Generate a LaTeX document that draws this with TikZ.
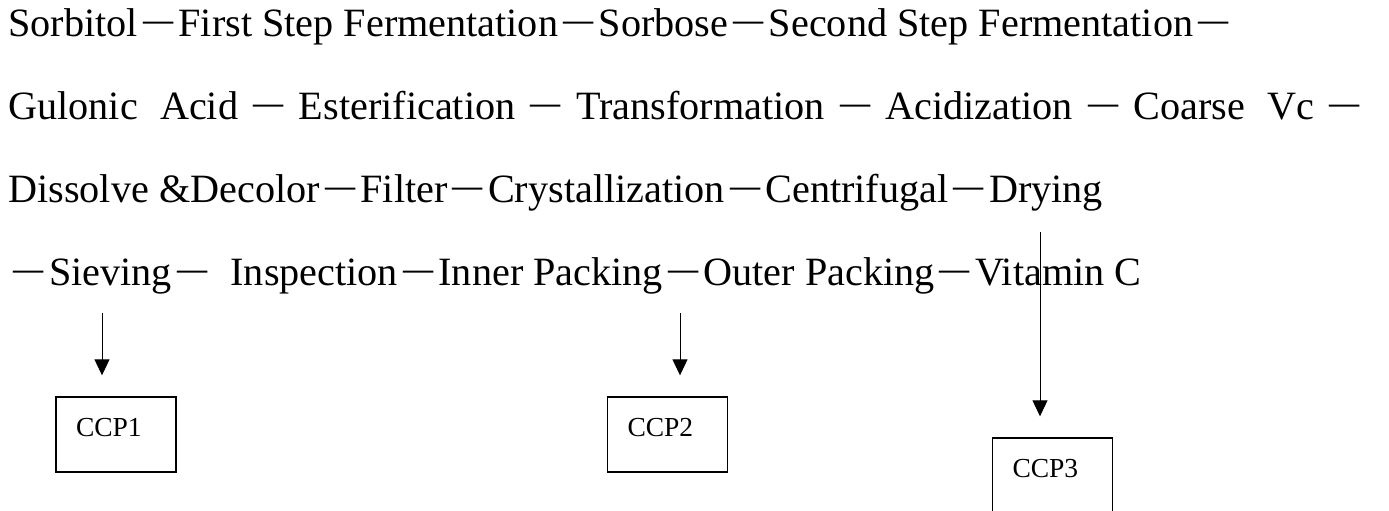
\documentclass[tikz,border=0pt]{standalone}
\usepackage{fontspec}
\setmainfont{Liberation Serif}
\usetikzlibrary{arrows.meta,positioning}

% full-width bar between the steps
\newcommand{\dsh}{\kern0.13em\raisebox{0.08em}{\scalebox{0.75}[1]{—}}\kern0.13em}

\begin{document}
\begin{tikzpicture}[x=0.5pt,y=-0.5pt,
    textline/.style={anchor=base west,inner sep=0pt,font=\fontsize{20.1}{24}\selectfont},
    ccpbox/.style={draw,line width=0.7pt,minimum width=60pt,minimum height=37.5pt,
      inner sep=0pt,text width=40pt,align=left,text depth=7pt,
      font=\fontsize{13.75}{16}\selectfont},
    flow/.style={-{Triangle[length=8pt,width=7.5pt]},line width=0.5pt}]
  \useasboundingbox (0,0) rectangle (1389,510);
  % process lines
  \node[textline] (line1) at (8,36)
    {Sorbitol\dsh First Step Fermentation\dsh Sorbose\dsh Second Step Fermentation\dsh};
  \node[textline] (line2) at (8,119)
    {Gulonic\hspace{0.55em}Acid \dsh{} Esterification \dsh{} Transformation \dsh{} Acidization \dsh{} Coarse\hspace{0.55em}Vc \dsh};
  \node[textline] (line3) at (8,202)
    {Dissolve \&Decolor\dsh Filter\dsh Crystallization\dsh Centrifugal\dsh Drying};
  \node[textline] (line4) at (8,285)
    {\dsh Sieving\dsh\hspace{0.45em}Inspection\dsh Inner Packing\dsh Outer Packing\dsh Vitamin C};
  % critical control points
  \node[ccpbox] (ccp1) at (116,434.5) {CCP1};
  \node[ccpbox] (ccp2) at (667.5,434.5) {CCP2};
  \node[ccpbox] (ccp3) at (1052.5,475.5) {CCP3};
  \coordinate (from1) at (102,313);
  \coordinate (from2) at (680,313);
  \coordinate (from3) at (1040,232);
  \draw[flow] (from1) -- ([yshift=10.5pt]ccp1.north -| from1);
  \draw[flow] (from2) -- ([yshift=10.5pt]ccp2.north -| from2);
  \draw[flow] (from3) -- ([yshift=10.5pt]ccp3.north -| from3);
\end{tikzpicture}
\end{document}
